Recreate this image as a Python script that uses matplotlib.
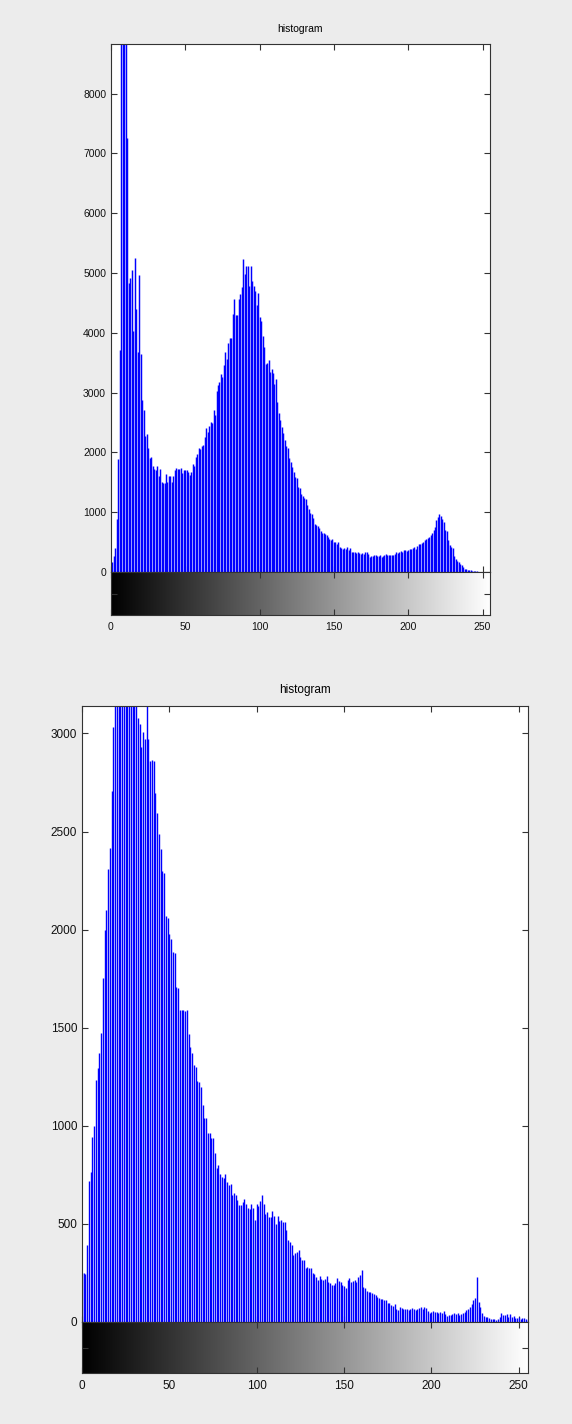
import numpy as np
import matplotlib.pyplot as plt

# grey levels 0..255
levels = np.arange(256)

# counts
counts_top = [
    100, 170, 260, 400, 885, 1885, 3710, 9600, 12500, 11200,
    9300, 7250, 4825, 4910, 5050, 4025, 5250, 4400, 3680, 4970,
    3650, 2880, 2710, 2280, 2310, 2080, 1900, 1930, 1770, 1720,
    1700, 1770, 1600, 1720, 1510, 1490, 1485, 1645, 1500, 1600,
    1610, 1500, 1600, 1700, 1740, 1720, 1720, 1740, 1655, 1700,
    1700, 1700, 1670, 1630, 1670, 1800, 1770, 1930, 1970, 2070,
    2055, 2100, 2125, 2255, 2410, 2340, 2445, 2510, 2485, 2710,
    2630, 3025, 3130, 3170, 3310, 3265, 3455, 3680, 3570, 3825,
    3920, 3910, 4310, 4570, 4300, 4290, 4560, 4650, 4770, 5240,
    4990, 5110, 5110, 4780, 5110, 4870, 4780, 4700, 4460, 4660,
    4270, 4190, 3950, 3770, 3480, 3500, 3540, 3350, 3400, 3320,
    3150, 3220, 2850, 2660, 2550, 2430, 2320, 2200, 2100, 2080,
    1900, 1840, 1750, 1680, 1590, 1580, 1420, 1400, 1310, 1270,
    1230, 1220, 1120, 1050, 980, 970, 900, 800, 790, 770,
    730, 680, 660, 660, 640, 620, 590, 560, 540, 550,
    510, 500, 470, 510, 420, 400, 380, 400, 380, 410,
    360, 400, 340, 340, 330, 320, 340, 310, 300, 310,
    300, 330, 340, 300, 245, 260, 270, 280, 280, 260,
    270, 280, 245, 260, 280, 300, 290, 280, 290, 280,
    290, 300, 330, 320, 330, 350, 340, 360, 360, 350,
    370, 380, 380, 400, 410, 380, 435, 470, 470, 490,
    510, 540, 550, 565, 580, 620, 660, 700, 760, 870,
    925, 970, 940, 880, 840, 700, 680, 540, 450, 420,
    400, 260, 220, 190, 160, 130, 110, 80, 55, 45,
    40, 35, 30, 25, 20, 15, 10, 5, 3, 2,
    0, 0, 0, 0, 0, 0,
]

# counts
counts_bottom = [
    250, 250, 245, 390, 720, 765, 945, 1000, 1232, 1293,
    1369, 1471, 1756, 2000, 2100, 2311, 2418, 2708, 3034, 3250,
    3400, 3350, 3500, 3600, 3450, 3550, 3400, 3500, 3380, 3300,
    3250, 3200, 3081, 3047, 2930, 3005, 2972, 3140, 2974, 2862,
    2866, 2858, 2697, 2596, 2490, 2412, 2300, 2290, 2071, 2060,
    1980, 1950, 1885, 1880, 1710, 1700, 1590, 1588, 1590, 1585,
    1588, 1470, 1400, 1369, 1308, 1300, 1227, 1224, 1200, 1105,
    1038, 1040, 962, 965, 936, 940, 860, 783, 800, 752,
    740, 732, 753, 714, 697, 702, 646, 660, 646, 621,
    596, 596, 610, 626, 604, 579, 574, 604, 580, 522,
    604, 590, 618, 646, 600, 553, 560, 535, 535, 566,
    540, 501, 539, 515, 518, 510, 510, 468, 420, 410,
    391, 341, 350, 358, 366, 330, 316, 316, 273, 280,
    273, 273, 248, 244, 230, 213, 234, 217, 213, 220,
    234, 205, 197, 188, 188, 200, 222, 210, 205, 188,
    185, 171, 213, 222, 205, 210, 213, 205, 227, 240,
    264, 178, 175, 160, 153, 153, 150, 144, 136, 129,
    121, 116, 116, 114, 112, 95, 95, 88, 82, 92,
    65, 61, 78, 70, 65, 68, 66, 61, 65, 70,
    65, 61, 68, 72, 75, 65, 75, 70, 58, 44,
    51, 54, 52, 51, 48, 53, 44, 54, 41, 31,
    36, 36, 41, 44, 41, 44, 36, 41, 44, 50,
    61, 65, 75, 92, 112, 120, 231, 104, 78, 44,
    31, 28, 24, 19, 17, 14, 17, 10, 14, 27,
    44, 36, 38, 41, 27, 41, 27, 31, 19, 22,
    27, 14, 20, 19, 14, 10,
]

yticks_top = [0, 1000, 2000, 3000, 4000, 5000, 6000, 7000, 8000]
yticks_bottom = [0, 500, 1000, 1500, 2000, 2500, 3000]
xticks = [0, 50, 100, 150, 200, 250]

W, H = 572, 1424
bg = '#ececec'
plt.rcParams['font.family'] = ['Liberation Sans', 'DejaVu Sans']


def box(l, t, r, b):
    return [l / W, 1 - b / H, (r - l) / W, (b - t) / H]


def draw_panel(fig, counts, ymax, yticks, hist_box, bar_box, fs, lw):
    ax = fig.add_axes(hist_box)
    ax.vlines(levels, 0, counts, color='#0000ff', linewidth=lw)
    ax.set_xlim(0, 255)
    ax.set_ylim(0, ymax)
    ax.set_yticks(yticks)
    ax.set_xticks(xticks)
    ax.tick_params(direction='in', top=True, right=True, labelbottom=False,
                   labelsize=fs, length=4, width=0.8, colors='#333333',
                   labelcolor='#111111')
    ax.set_title('histogram', fontsize=fs, pad=9)
    ax.set_facecolor('white')

    # grey ramp under the histogram
    cb = fig.add_axes(bar_box)
    cb.imshow(levels[None, :], cmap='gray', aspect='auto',
              extent=[-0.5, 255.5, 0, 1], vmin=0, vmax=255)
    cb.set_xlim(0, 255)
    cb.set_ylim(0, 1)
    cb.set_xticks(xticks)
    cb.set_yticks([0.5])
    cb.set_yticklabels([])
    cb.tick_params(direction='in', top=True, right=True, labelsize=fs,
                   length=4, width=0.8, colors='#333333', pad=5,
                   labelcolor='#111111')
    for a in (ax, cb):
        for s in a.spines.values():
            s.set_color('#333333')
            s.set_linewidth(0.8)
    return ax


fig = plt.figure(figsize=(W / 100, H / 100), dpi=100, facecolor=bg)
draw_panel(fig, counts_top, 8830, yticks_top,
           box(111, 44, 490, 572), box(111, 572, 490, 615), 7.5, 1.05)
draw_panel(fig, counts_bottom, 3140, yticks_bottom,
           box(82, 706, 527.5, 1322), box(82, 1322, 527.5, 1373), 8.5, 1.0)

fig.savefig('out.png', dpi=100, facecolor=bg)
